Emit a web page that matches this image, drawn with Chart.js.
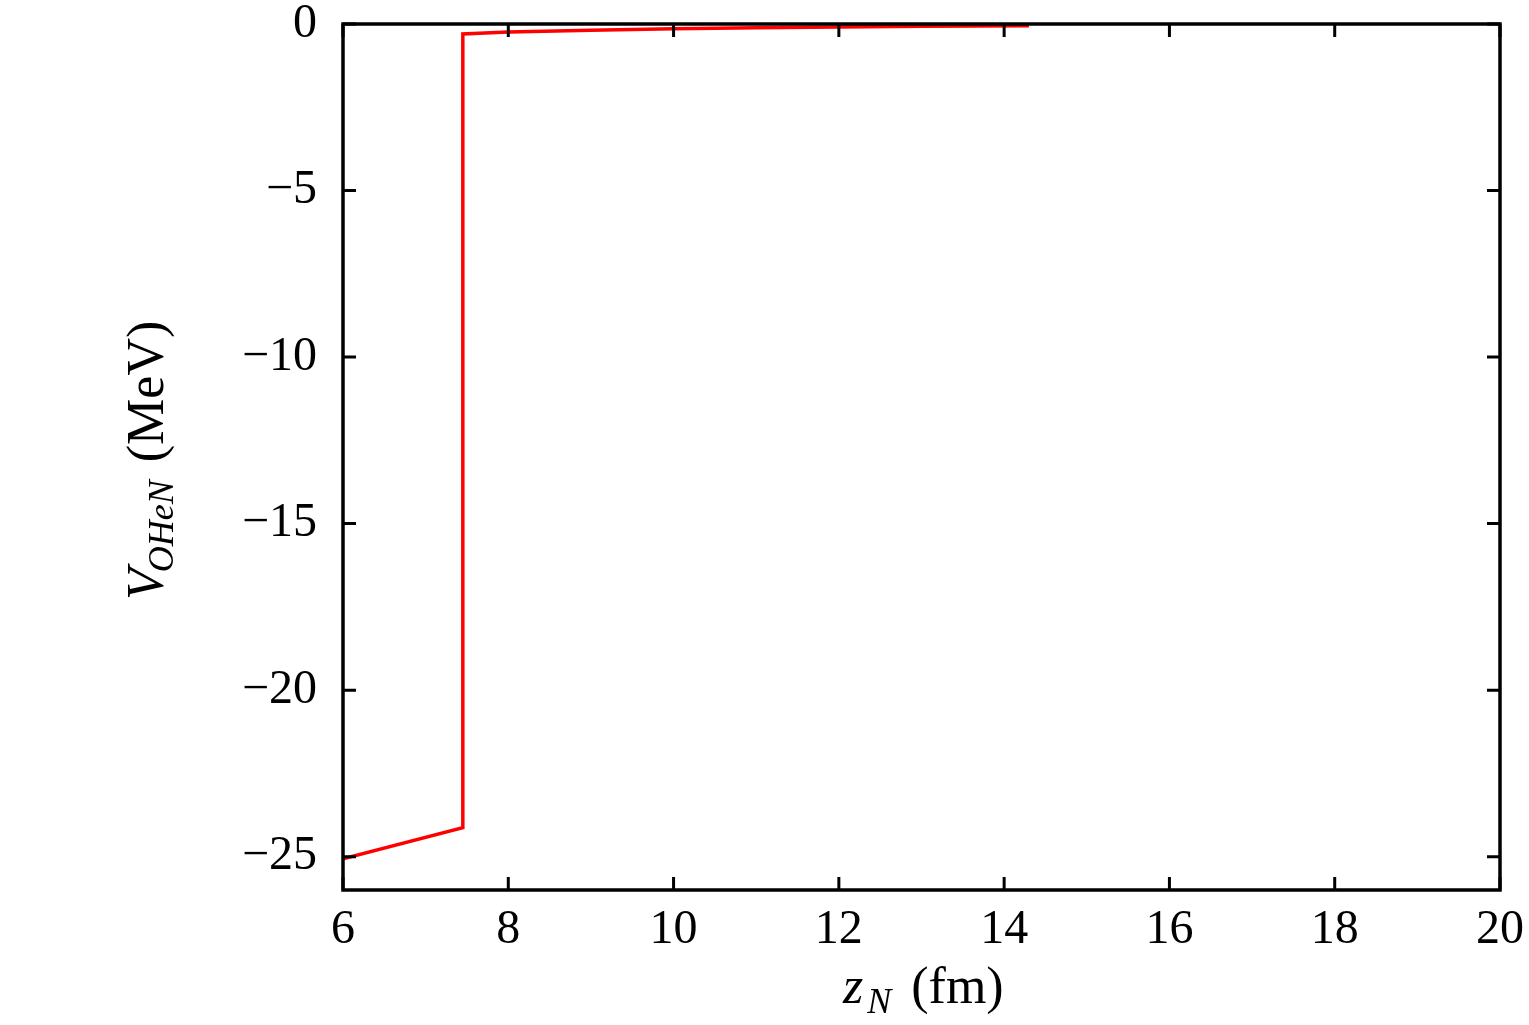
<!DOCTYPE html>
<html>
<head>
<meta charset="utf-8">
<script src="https://cdn.jsdelivr.net/npm/chart.js@4.4.0/dist/chart.umd.min.js"></script>
<style>
  html, body { margin: 0; padding: 0; background: #fff; }
  #wrap { width: 1529px; height: 1025px; }
</style>
</head>
<body>
<div id="wrap"><canvas id="chart" width="1529" height="1025"></canvas></div>
<script>
// values
const zN = [6, 7.45, 7.45, 8, 9, 10, 11, 12, 13, 14.3];
const vOHeN = [-25.06, -24.13, -0.3, -0.24, -0.19, -0.14, -0.11, -0.09, -0.07, -0.05];
const xTicks = [6, 8, 10, 12, 14, 16, 18, 20];
const yTicks = [0, -5, -10, -15, -20, -25];

const serif = '"Liberation Serif", "DejaVu Serif", serif';

// frame, inward ticks on all sides, and axis titles with subscripts
const framePlugin = {
    id: 'frame',
    afterDraw(chart) {
        const ctx = chart.ctx;
        const a = chart.chartArea;
        const xs = chart.scales.x;
        const ys = chart.scales.y;
        const tl = 13;
        ctx.save();
        ctx.strokeStyle = '#000';
        ctx.lineWidth = 3.5;
        ctx.strokeRect(a.left, a.top, a.right - a.left, a.bottom - a.top);
        ctx.lineWidth = 3;
        ctx.beginPath();
        xTicks.forEach(v => {
            const px = xs.getPixelForValue(v);
            ctx.moveTo(px, a.bottom); ctx.lineTo(px, a.bottom - tl);
            ctx.moveTo(px, a.top); ctx.lineTo(px, a.top + tl);
        });
        yTicks.forEach(v => {
            const py = ys.getPixelForValue(v);
            ctx.moveTo(a.left, py); ctx.lineTo(a.left + tl, py);
            ctx.moveTo(a.right, py); ctx.lineTo(a.right - tl, py);
        });
        ctx.stroke();

        ctx.fillStyle = '#000';
        ctx.textBaseline = 'alphabetic';

        // x title: z_N (fm)
        let x = 843, y = 1003;
        ctx.font = 'italic 52px ' + serif;
        ctx.fillText('z', x, y);
        x += ctx.measureText('z').width + 4;
        ctx.font = 'italic 36px ' + serif;
        ctx.fillText('N', x, y + 10);
        x += ctx.measureText('N').width + 20;
        ctx.font = '52px ' + serif;
        ctx.fillText('(fm)', x, y);

        // y title: V_OHeN (MeV), rotated
        ctx.translate(163, 600);
        ctx.rotate(-Math.PI / 2);
        x = 0; y = 0;
        ctx.font = 'italic 52px ' + serif;
        ctx.fillText('V', x, y);
        x += ctx.measureText('V').width - 4;
        ctx.font = 'italic 36px ' + serif;
        ctx.fillText('OHeN', x, y + 10);
        x += ctx.measureText('OHeN').width + 18;
        ctx.font = '52px ' + serif;
        ctx.fillText('(MeV)', x, y);
        ctx.restore();
    }
};

const points = zN.map((z, i) => ({ x: z, y: vOHeN[i] }));

new Chart(document.getElementById('chart'), {
    type: 'line',
    data: {
        datasets: [{
            data: points,
            borderColor: '#ff0000',
            borderWidth: 3.5,
            pointRadius: 0,
            tension: 0,
            fill: false
        }]
    },
    options: {
        responsive: false,
        animation: false,
        layout: { padding: { left: 0, right: 29, top: 24, bottom: 0 } },
        plugins: { legend: { display: false }, tooltip: { enabled: false } },
        scales: {
            x: {
                type: 'linear',
                min: 6, max: 20,
                afterBuildTicks: s => { s.ticks = xTicks.map(v => ({ value: v })); },
                afterFit: s => { s.height = 135; s.paddingLeft = 0; s.paddingRight = 0; },
                grid: { display: false, drawTicks: false },
                border: { display: false },
                ticks: {
                    color: '#000',
                    font: { family: serif, size: 48 },
                    padding: 12,
                    maxRotation: 0,
                    callback: v => String(v)
                }
            },
            y: {
                type: 'linear',
                min: -26, max: 0,
                afterBuildTicks: s => { s.ticks = yTicks.map(v => ({ value: v })); },
                afterFit: s => { s.width = 343; s.paddingTop = 0; s.paddingBottom = 0; },
                grid: { display: false, drawTicks: false },
                border: { display: false },
                ticks: {
                    color: '#000',
                    font: { family: serif, size: 48 },
                    padding: 26,
                    callback: v => (v < 0 ? '\u2212' + Math.abs(v) : String(v))
                }
            }
        }
    },
    plugins: [framePlugin]
});
</script>
</body>
</html>
